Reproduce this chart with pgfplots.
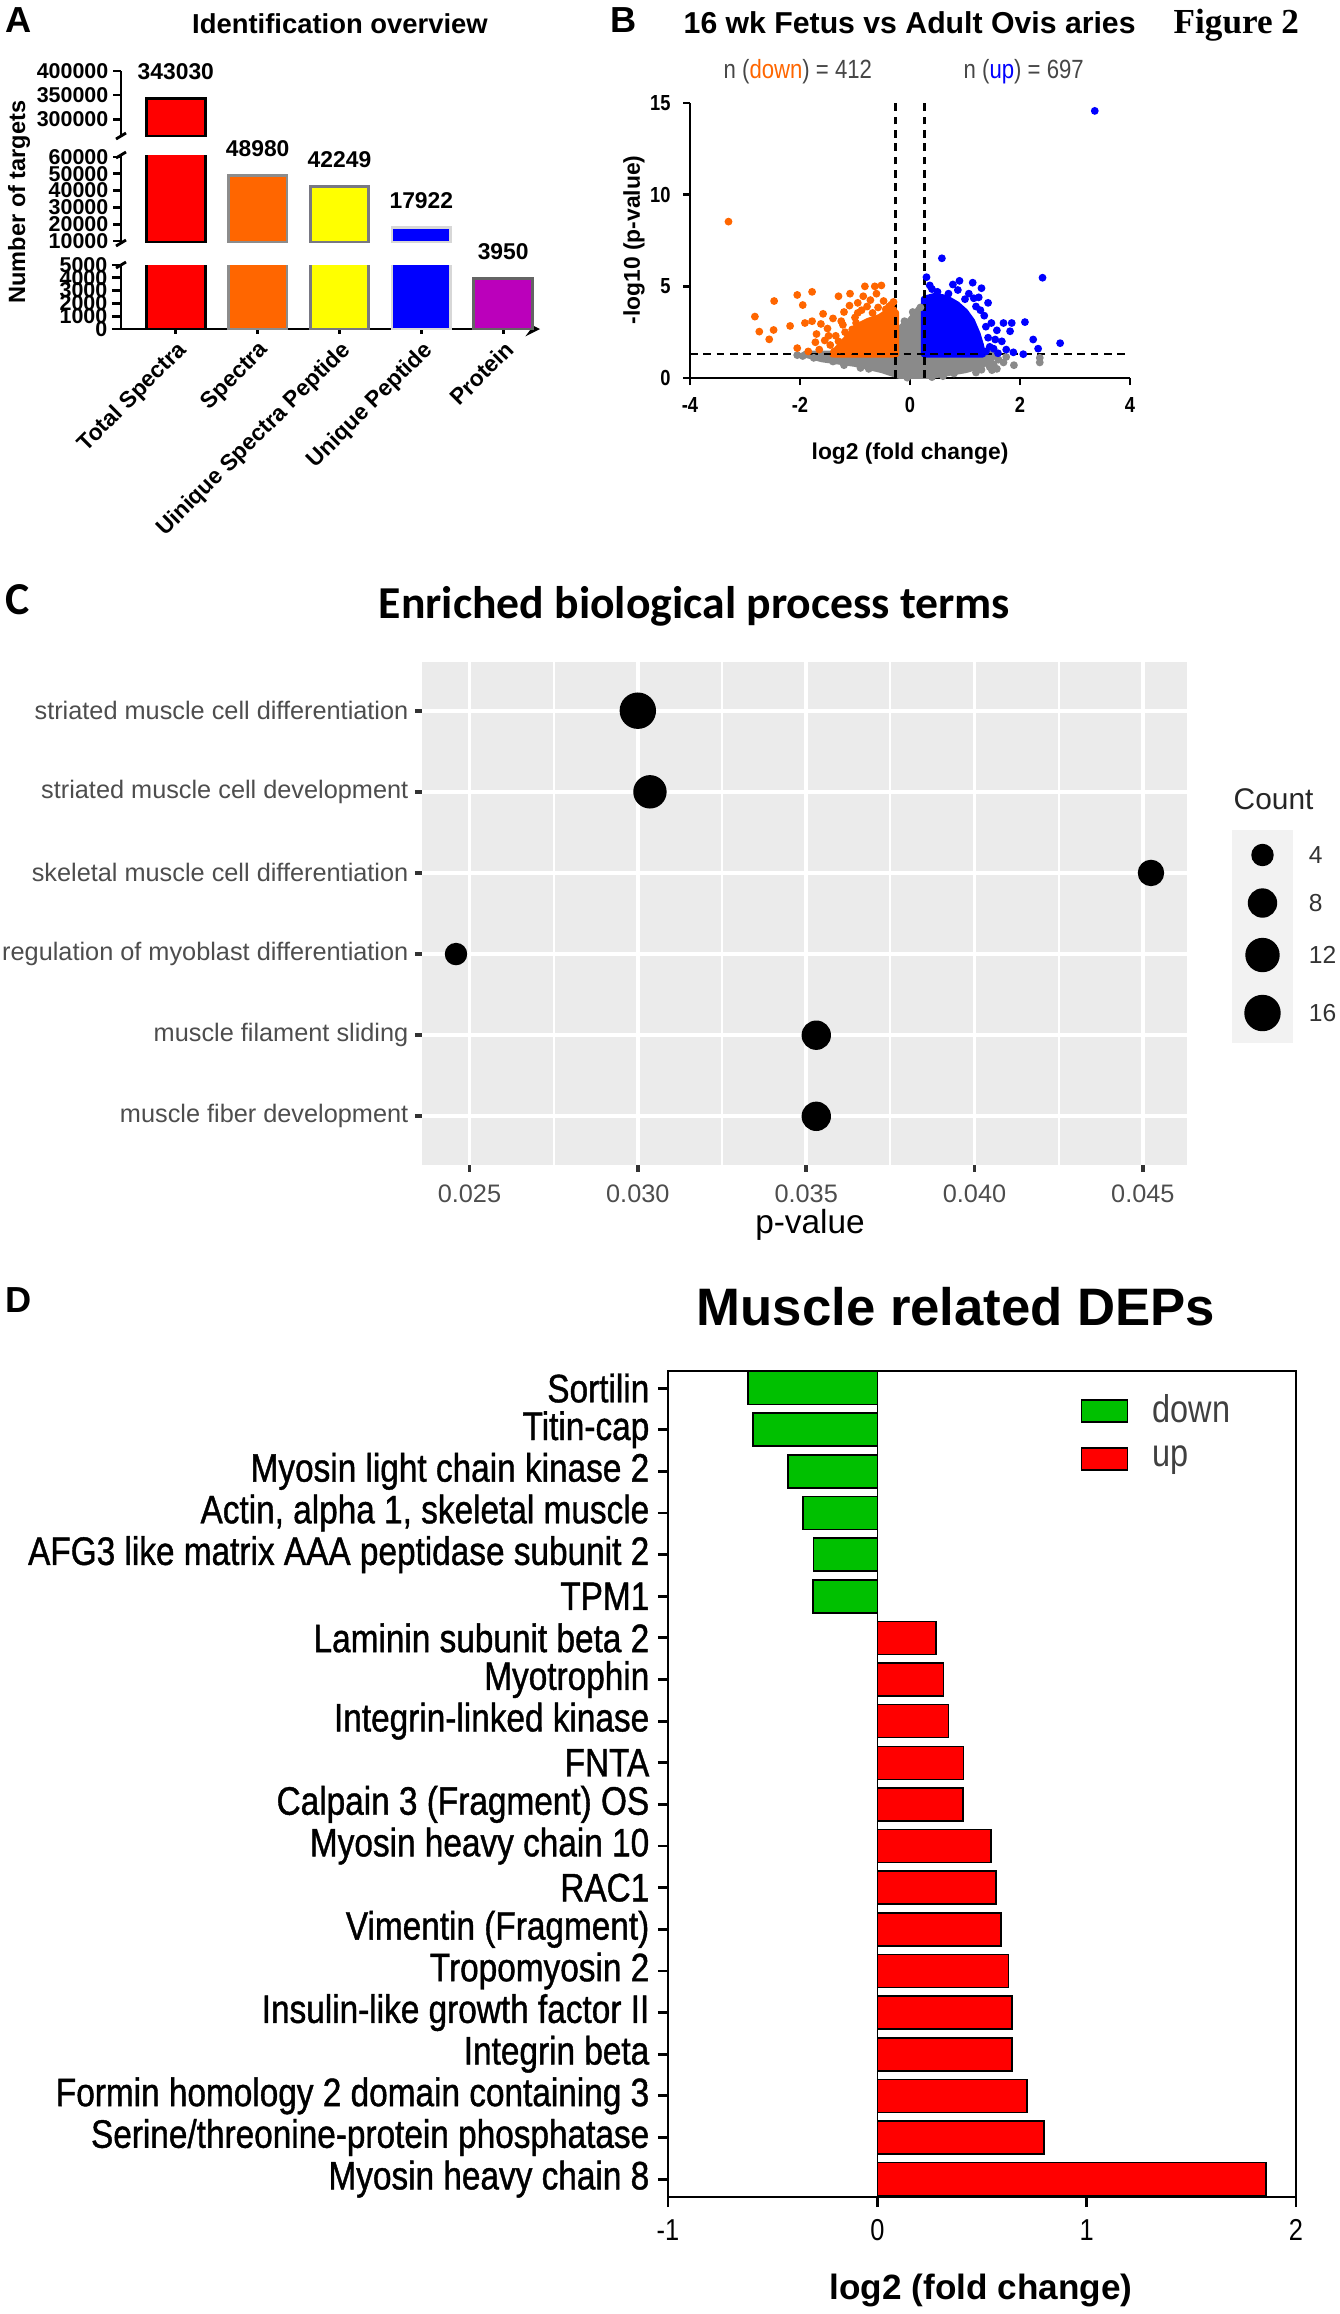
\documentclass[border=0pt]{standalone}
\usepackage{fontspec}
\setmainfont{Liberation Sans}
\newfontfamily\narrow[FakeStretch=0.84]{Liberation Sans}
\newfontfamily\narrowb[FakeStretch=0.84, FakeBold=1]{Liberation Sans}
\newfontfamily\cali{Carlito}
\newfontfamily\timesf{Liberation Serif}
\usepackage{pgfplots}
\pgfplotsset{compat=1.18}
\newcommand\fs[1]{\fontsize{#1pt}{#1pt}\selectfont}

\definecolor{cRed}{RGB}{255,0,0}
\definecolor{cOrange}{RGB}{255,102,0}
\definecolor{cYellow}{RGB}{255,255,0}
\definecolor{cBlue}{RGB}{0,0,255}
\definecolor{cPurple}{RGB}{187,0,187}
\definecolor{bOrange}{RGB}{140,140,140}
\definecolor{bYellow}{RGB}{120,120,130}
\definecolor{bBlue}{RGB}{215,215,215}
\definecolor{bPurple}{RGB}{100,100,100}
\definecolor{volGray}{RGB}{138,138,138}
\definecolor{nGray}{RGB}{70,70,70}
\definecolor{ggPanel}{RGB}{235,235,235}
\definecolor{ggText}{RGB}{77,77,77}
\definecolor{ggTick}{RGB}{51,51,51}
\definecolor{ggKey}{RGB}{242,242,242}
\definecolor{depGreen}{RGB}{0,192,0}
\definecolor{depRed}{RGB}{255,0,0}
\definecolor{legText}{RGB}{64,64,64}

\pgfplotsset{
  segA/.style={anchor=south west, scale only axis, width=4.19cm,
    xmin=-0.67, xmax=4.45, clip mode=individual, scaled y ticks=false,
    axis y line=left, axis line style={-, line width=0.8pt},
    tick align=outside, major tick length=0.08cm, tick style={line width=0.8pt, black},
    yticklabel style={font=\bfseries\fs{6.1}, inner sep=0pt, xshift=-0.04cm}},
  barA/.style={ybar, bar width=0.586cm, bar shift=0pt, line width=0.8pt},
  labA/.style={nodes near coords, point meta=explicit symbolic,
    every node near coord/.style={font=\bfseries\fs{6.5}, text=black, anchor=base,
      inner sep=0pt, yshift=0.19cm}},
  vdot/.style={only marks, mark=*, mark size=0.9pt, color=#1},
  varea/.style={fill=#1, draw=#1, line width=2pt, line join=round},
  dbar/.style={xbar, bar width=0.33cm, bar shift=0pt, draw=black, line width=0.45pt,
    legend image code/.code={\draw[##1] (0cm,-0.11cm) rectangle (0.46cm,0.11cm);}},
}

\begin{document}
\begin{tikzpicture}
\useasboundingbox (0,0) rectangle (13.4cm,-23.14cm);

% ---------- A: identification overview (broken axis) ----------
\begin{axis}[segA, axis x line=none, xtick=\empty,
  at={(1.21cm,-1.36cm)}, height=0.65cm, ymin=265000, ymax=400000,
  ytick={300000,350000,400000}, yticklabels={300000,350000,400000}]
\addplot[barA, labA, fill=cRed, draw=black] coordinates {(0,343030) [343030]};
\end{axis}

\begin{axis}[segA, axis x line=none, xtick=\empty,
  at={(1.21cm,-2.427cm)}, height=0.874cm, ymin=9000, ymax=61000,
  ytick={10000,20000,30000,40000,50000,60000},
  yticklabels={10000,20000,30000,40000,50000,60000}]
\addplot[barA, fill=cRed, draw=black] coordinates {(0,343030)};
\addplot[barA, labA, fill=cOrange, draw=bOrange] coordinates {(1,48980) [48980]};
\addplot[barA, labA, fill=cYellow, draw=bYellow] coordinates {(2,42249) [42249]};
\addplot[barA, labA, fill=cBlue, draw=bBlue] coordinates {(3,17922) [17922]};
\end{axis}

\begin{axis}[segA, axis x line=bottom,
  at={(1.21cm,-3.29cm)}, height=0.64cm, ymin=0, ymax=5000,
  major tick length=0.09cm,
  xtick={0,1,2,3,4},
  xticklabels={Total Spectra, Spectra, Uinique Spectra Peptide, Unique Peptide, Protein},
  xticklabel style={font=\bfseries\fs{6.5}, rotate=45, anchor=north east, inner sep=1pt},
  ytick={0,1000,2000,3000,4000,5000}, yticklabels={0,1000,2000,3000,4000,5000}]
\addplot[barA, fill=cRed, draw=black] coordinates {(0,343030)};
\addplot[barA, fill=cOrange, draw=bOrange] coordinates {(1,48980)};
\addplot[barA, fill=cYellow, draw=bYellow] coordinates {(2,42249)};
\addplot[barA, fill=cBlue, draw=bBlue] coordinates {(3,17922)};
\addplot[barA, labA, fill=cPurple, draw=bPurple] coordinates {(4,3950) [3950]};
\end{axis}

\draw[line width=0.8pt] (1.16cm,-1.39cm) -- (1.26cm,-1.33cm);
\draw[line width=0.8pt] (1.16cm,-1.58cm) -- (1.26cm,-1.52cm);
\draw[line width=0.8pt] (1.16cm,-2.46cm) -- (1.26cm,-2.40cm);
\draw[line width=0.8pt] (1.16cm,-2.68cm) -- (1.26cm,-2.62cm);

% ---------- B: volcano plot ----------
\begin{axis}[at={(6.90cm,-3.78cm)}, anchor=south west, scale only axis,
  width=4.40cm, height=2.75cm, xmin=-4, xmax=4, ymin=0, ymax=15,
  axis lines=left, axis line style={-, line width=0.8pt},
  tick align=outside, major tick length=0.07cm, tick style={line width=0.8pt, black},
  xtick={-4,-2,0,2,4}, xticklabels={-4,-2,0,2,4},
  ytick={0,5,10,15}, yticklabels={0,5,10,15},
  ticklabel style={font=\narrow\bfseries\fs{6.2}}]
\addplot[varea=volGray] coordinates {(-1.9,1.3) (-1.6,1.05) (-1.0,0.8) (-0.5,0.45)
  (-0.2,0.15) (0,0.05) (0.2,0.08) (0.5,0.2) (1.0,0.45) (1.3,0.7) (1.45,1.0) (1.55,1.3)
  (0.26,1.3) (0.26,3.3) (0.18,3.8) (0.08,3.4) (0,3.1) (-0.1,2.9) (-0.2,2.6)
  (-0.26,2.5) (-0.26,1.3)} -- cycle;
\addplot[vdot=volGray] coordinates {(1.61,1.00) (1.58,0.50) (1.89,0.70) (2.36,1.10)
  (2.36,0.85) (1.49,0.43) (1.70,0.85) (-1.75,1.10) (-1.95,1.20) (1.45,0.60) (0.05,3.6)
  (0.19,3.85) (-0.1,3.1) (1.3,0.45) (-1.4,0.9) (-0.05,0.02) (0.4,0.05) (0.6,0.1)
  (-0.75,0.5) (1.2,0.3) (-2.05,1.25) (1.75,1.15) (-1.2,0.7) (-0.9,0.55) (0.8,0.25)
  (1.52,0.75)};
\addplot[varea=cOrange] coordinates {(-0.26,1.3) (-0.26,3.55) (-0.4,3.6) (-0.55,3.3)
  (-0.75,3.1) (-0.95,2.8) (-1.1,2.3) (-1.25,1.8) (-1.4,1.3)} -- cycle;
\addplot[vdot=cOrange] coordinates {(-3.30,8.53) (-2.82,3.35) (-2.74,2.53) (-2.56,2.11)
  (-2.48,2.62) (-2.47,4.20) (-2.18,2.84) (-2.05,4.53) (-2.05,1.63) (-1.95,3.98)
  (-1.91,3.00) (-1.78,4.70) (-1.78,3.10) (-1.70,2.40) (-1.58,3.50) (-1.65,1.55)
  (-1.55,2.05) (-1.50,2.70) (-1.45,1.80) (-1.40,3.25) (-1.35,2.30) (-1.30,4.46)
  (-1.28,1.55) (-1.22,2.90) (-1.20,3.60) (-1.15,1.95) (-1.10,3.95) (-1.09,4.60)
  (-1.05,2.65) (-1.00,3.30) (-0.95,4.10) (-0.92,1.60) (-0.88,3.70) (-0.85,4.46)
  (-0.82,5.00) (-0.78,3.90) (-0.72,4.25) (-0.68,3.55) (-0.64,5.00) (-0.61,4.60)
  (-0.58,3.85) (-0.52,5.05) (-0.48,4.20) (-0.44,3.75) (-0.38,3.90) (-0.34,4.00)
  (-0.30,3.70) (-0.30,4.15) (-1.85,1.45) (-1.62,2.95) (-1.38,1.45) (-1.12,1.40)
  (-1.72,1.95) (-1.48,2.30) (-1.30,2.00) (-1.18,2.50) (-1.25,3.10) (-0.98,3.00)
  (-0.95,3.55)};
\addplot[varea=cBlue] coordinates {(0.26,1.3) (0.26,4.3) (0.45,4.45) (0.65,4.35)
  (0.85,4.0) (1.0,3.6) (1.12,3.1) (1.22,2.4) (1.28,1.8) (1.32,1.3)} -- cycle;
\addplot[vdot=cBlue] coordinates {(3.36,14.57) (0.58,6.53) (2.41,5.47) (0.30,5.50)
  (0.36,5.05) (0.90,5.30) (1.14,5.20) (1.30,4.90) (1.42,4.10) (1.07,4.60) (0.87,4.80)
  (1.58,2.60) (1.70,3.00) (1.85,3.00) (1.82,2.55) (2.09,3.05) (2.24,2.10) (2.33,1.60)
  (2.73,1.90) (2.06,1.30) (1.88,1.40) (1.52,1.60) (1.67,2.00) (0.50,4.70) (0.70,4.60)
  (1.00,4.30) (1.20,3.90) (1.25,4.40) (1.35,3.40) (1.38,2.80) (1.42,2.20) (1.45,1.70)
  (1.38,1.45) (1.60,1.35) (1.28,3.70) (1.16,4.35) (0.40,4.85) (0.78,5.10) (1.48,3.00)
  (1.55,2.10) (1.75,1.55)};
\addplot[black, line width=0.6pt, dash pattern=on 2.2pt off 1.6pt] coordinates {(-0.263,0) (-0.263,15)};
\addplot[black, line width=0.6pt, dash pattern=on 2.2pt off 1.6pt] coordinates {(0.263,0) (0.263,15)};
\addplot[black, line width=0.6pt, dash pattern=on 2.2pt off 1.6pt] coordinates {(-4,1.301) (4,1.301)};
\end{axis}

% ---------- C: enriched biological process terms ----------
\begin{axis}[at={(4.22cm,-6.62cm)}, anchor=north west, scale only axis,
  width=7.65cm, height=5.03cm,
  xmin=0.02359, xmax=0.04631, ymin=0.4, ymax=6.6, y dir=reverse,
  scaled x ticks=false,
  axis background/.style={fill=ggPanel}, axis line style={draw=none},
  xtick={0.025,0.03,0.035,0.04,0.045}, xticklabels={0.025,0.030,0.035,0.040,0.045},
  minor xtick={0.0275,0.0325,0.0375,0.0425},
  ytick={1,2,3,4,5,6},
  yticklabels={striated muscle cell differentiation, striated muscle cell development,
    skeletal muscle cell differentiation, regulation of myoblast differentiation,
    muscle filament sliding, muscle fiber development},
  xmajorgrids, xminorgrids, ymajorgrids,
  major grid style={white, line width=1.1pt}, minor grid style={white, line width=0.55pt},
  tick align=outside, tick pos=left, major tick length=0.07cm, minor tick length=0pt,
  tick style={ggTick, line width=1.1pt},
  ticklabel style={font=\fs{7.2}, text=ggText},
  yticklabel style={inner sep=0pt, xshift=-0.06cm}]
\addplot[scatter, only marks, mark=*,
  scatter/use mapped color={draw=black, fill=black},
  visualization depends on={\thisrow{size} \as \msize},
  scatter/@pre marker code/.append style={/tikz/mark size=\msize pt}]
  table[x=p, y=row] {
p       row count size
0.0300  1   16    4.98
0.03036 2   11    4.55
0.04524 3   6     3.56
0.0246  4   4     2.99
0.0353  5   8     3.98
0.0353  6   8     3.98
};
\end{axis}

% size legend
\begin{axis}[at={(12.32cm,-8.30cm)}, anchor=north west, scale only axis,
  width=0.61cm, height=2.13cm, xmin=0, xmax=1, ymin=830, ymax=1043, y dir=reverse,
  hide axis, clip=false]
\addplot[fill=ggKey, draw=none] coordinates {(0,830) (1,830) (1,1043) (0,1043)} -- cycle;
\addplot[only marks, mark=*, mark size=2.99pt, black] coordinates {(0.5,855)};
\addplot[only marks, mark=*, mark size=3.98pt, black] coordinates {(0.5,903)};
\addplot[only marks, mark=*, mark size=4.69pt, black] coordinates {(0.5,955)};
\addplot[only marks, mark=*, mark size=4.98pt, black] coordinates {(0.5,1013)};
\node[anchor=west, inner sep=0pt, font=\fs{7}, text=ggTick] at (axis cs:1.25,855) {4};
\node[anchor=west, inner sep=0pt, font=\fs{7}, text=ggTick] at (axis cs:1.25,903) {8};
\node[anchor=west, inner sep=0pt, font=\fs{7}, text=ggTick] at (axis cs:1.25,955) {12};
\node[anchor=west, inner sep=0pt, font=\fs{7}, text=ggTick] at (axis cs:1.25,1013) {16};
\end{axis}

% ---------- D: muscle related DEPs ----------
\begin{axis}[at={(6.68cm,-13.71cm)}, anchor=north west, scale only axis,
  width=6.28cm, height=8.26cm,
  xmin=-1, xmax=2, ymin=0.59, ymax=20.43, y dir=reverse,
  axis line style={line width=0.8pt},
  tick align=outside, tick pos=left, major tick length=0.1cm,
  tick style={line width=0.8pt, black},
  xtick={-1,0,1,2}, xticklabels={-1,0,1,2},
  ytick={1,...,20},
  yticklabels={Sortilin, Titin-cap, Myosin light chain kinase 2,
    {Actin, alpha 1, skeletal muscle}, AFG3 like matrix AAA peptidase subunit 2, TPM1,
    Laminin subunit beta 2, Myotrophin, Integrin-linked kinase, FNTA,
    Calpain 3 (Fragment) OS, Myosin heavy chain 10, RAC1, Vimentin (Fragment),
    Tropomyosin 2, Insulin-like growth factor II, Integrin beta,
    Formin homology 2 domain containing 3, Serine/threonine-protein phosphatase,
    Myosin heavy chain 8},
  yticklabel style={font=\narrowb\fs{11.3}, inner sep=0pt, xshift=-0.08cm},
  xticklabel style={font=\narrow\fs{8.6}},
  legend style={at={(axis cs:0.969,1.14)}, anchor=north west, draw=none, fill=none,
    inner sep=0pt, row sep=0.18cm, font=\narrow\fs{11},
    nodes={inner sep=0pt, text=legText}},
  legend cell align=left]
\addplot[black, line width=0.45pt, forget plot] coordinates {(0,0.59) (0,20.43)};
\addplot[dbar, fill=depGreen] coordinates {(-0.619,1) (-0.595,2) (-0.426,3)
  (-0.355,4) (-0.304,5) (-0.307,6)};
\addplot[dbar, fill=depRed] coordinates {(0.280,7) (0.317,8) (0.340,9) (0.412,10)
  (0.409,11) (0.543,12) (0.568,13) (0.592,14) (0.627,15) (0.643,16) (0.643,17)
  (0.714,18) (0.797,19) (1.857,20)};
\legend{\hspace{0.24cm}down, \hspace{0.24cm}up}
\end{axis}

% ---------- titles and labels ----------
\node[anchor=north west, inner sep=0pt, font=\bfseries\fs{10.3}] at (0.05cm,-0.07cm) {A};
\node[font=\bfseries\fs{7.8}] at (3.40cm,-0.235cm) {Identification overview};
\node[rotate=90, font=\bfseries\fs{6.7}] at (0.19cm,-2.02cm) {Number of targets};

\node[anchor=north west, inner sep=0pt, font=\bfseries\fs{10.3}] at (6.10cm,-0.07cm) {B};
\node[anchor=west, inner sep=0pt, font=\bfseries\fs{8.6}] at (6.83cm,-0.23cm) {16 wk Fetus vs Adult Ovis aries};
\node[anchor=west, inner sep=0pt, font=\timesf\bfseries\fs{10}] at (11.73cm,-0.25cm) {Figure 2};
\node[anchor=west, inner sep=0pt, font=\narrow\fs{7.5}, text=nGray] at (7.23cm,-0.72cm)
  {n (\textcolor{cOrange}{down}) = 412};
\node[anchor=west, inner sep=0pt, font=\narrow\fs{7.5}, text=nGray] at (9.63cm,-0.72cm)
  {n (\textcolor{cBlue}{up}) = 697};
\node[anchor=base, inner sep=0pt, font=\bfseries\fs{6.5}] at (9.10cm,-4.59cm) {log2 (fold change)};
\node[rotate=90, font=\bfseries\fs{6.5}] at (6.34cm,-2.40cm) {-log10 (p-value)};

\node[font=\cali\bfseries\fs{13}] at (0.18cm,-6.00cm) {C};
\node[anchor=base, inner sep=0pt, font=\cali\bfseries\fs{13}] at (6.945cm,-6.18cm) {Enriched biological process terms};
\node[font=\fs{9.5}] at (8.10cm,-12.25cm) {p-value};
\node[anchor=west, inner sep=0pt, font=\fs{8.5}, text=black!85] at (12.33cm,-7.99cm) {Count};

\node[anchor=north west, inner sep=0pt, font=\bfseries\fs{10.3}] at (0.05cm,-12.87cm) {D};
\node[anchor=base, inner sep=0pt, font=\bfseries\fs{15}] at (9.56cm,-13.25cm) {Muscle related DEPs};
\node[anchor=base, inner sep=0pt, font=\bfseries\fs{10}] at (9.81cm,-22.99cm) {log2 (fold change)};
\end{tikzpicture}
\end{document}
